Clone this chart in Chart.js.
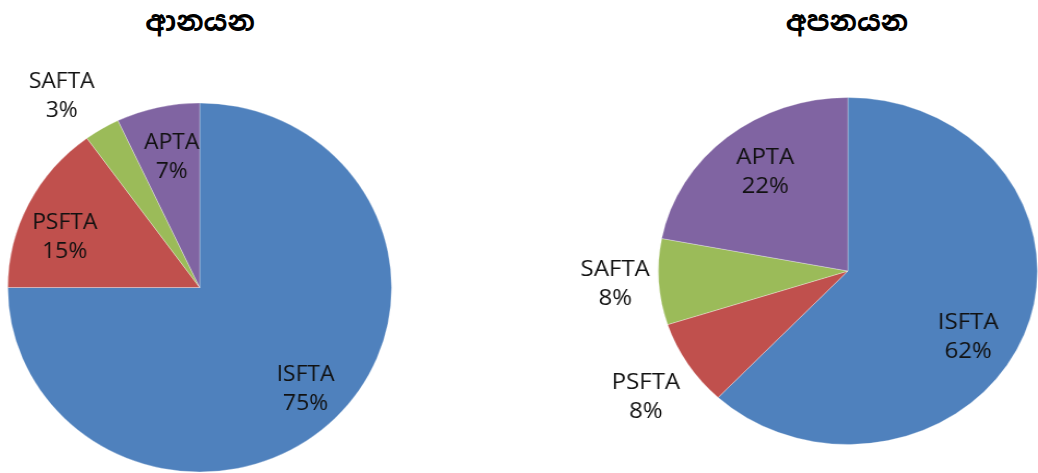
<!DOCTYPE html>
<html>
<head>
<meta charset="utf-8">
<script src="https://cdn.jsdelivr.net/npm/chart.js@4/dist/chart.umd.min.js"></script>
<style>
    html, body { margin: 0; padding: 0; background: #fff; overflow: hidden; }
    body { width: 1038px; height: 473px; position: relative; }
    canvas { position: absolute; top: 0; }
    .titulo {
        position: absolute; top: 3px; width: 300px; text-align: center;
        font-family: "Noto Sans Sinhala", "Iskoola Pota", "Noto Sans", sans-serif;
        font-weight: bold; font-size: 28px; color: #000;
    }
</style>
</head>
<body>
<div class="titulo" id="tituloImport" style="left:50px;"></div>
<div class="titulo" id="tituloExport" style="left:697px;"></div>
<!-- canvases stretched horizontally with css, like the original picture -->
<canvas id="importChart" width="499" height="473" style="left:0; width:519px; height:473px;"></canvas>
<canvas id="exportChart" width="475" height="473" style="left:519px; width:519px; height:473px;"></canvas>
<script>
// dados
const categorias = ['ISFTA', 'PSFTA', 'SAFTA', 'APTA'];
const importacoes = [75, 15, 3, 7];   // ආනයන
const exportacoes = [62, 8, 8, 22];   // අපනයන
const tituloImport = 'ආනයන';
const tituloExport = 'අපනයන';

const cores = ['#4F81BD', '#C0504D', '#9BBB59', '#8064A2'];

// posição dos rótulos: fração do raio e desvio do ângulo (graus)
const rotuloImport = { raio: [0.78, 0.755, 1.26, 0.72], desvio: [0, -5.7, -4.2, 0.9] };
const rotuloExport = { raio: [0.74, 1.29, 1.23, 0.715], desvio: [9.4, -1.9, 0, 2] };

// plugin simples para escrever nome + percentual
const rotulosPlugin = {
    id: 'rotulos',
    afterDatasetsDraw(chart, args, opts) {
        const ctx = chart.ctx;
        const meta = chart.getDatasetMeta(0);
        const valores = chart.data.datasets[0].data;
        ctx.save();
        ctx.font = '22px "Open Sans", "Noto Sans", sans-serif';
        ctx.fillStyle = '#111';
        ctx.textAlign = 'center';
        ctx.textBaseline = 'middle';
        meta.data.forEach((arc, i) => {
            const meio = (arc.startAngle + arc.endAngle) / 2 + opts.desvio[i] * Math.PI / 180;
            const r = arc.outerRadius * opts.raio[i];
            const x = arc.x + Math.cos(meio) * r;
            const y = arc.y + Math.sin(meio) * r;
            ctx.fillText(chart.data.labels[i], x, y - 14.5);
            ctx.fillText(valores[i] + '%', x, y + 14.5);
        });
        ctx.restore();
    }
};

function criaPizza(id, valores, padding, rotulo) {
    const ctx = document.getElementById(id).getContext('2d');
    new Chart(ctx, {
        type: 'pie',
        data: {
            labels: categorias,
            datasets: [{
                data: valores,
                backgroundColor: cores,
                borderColor: 'rgba(255,255,255,0.3)',
                borderWidth: 1,
                hoverOffset: 0
            }]
        },
        options: {
            responsive: false,
            animation: false,
            events: [],
            layout: { padding: padding },
            plugins: {
                legend: { display: false },
                tooltip: { enabled: false },
                rotulos: rotulo
            }
        },
        plugins: [rotulosPlugin]
    });
}

document.getElementById('tituloImport').textContent = tituloImport;
document.getElementById('tituloExport').textContent = tituloExport;

criaPizza('importChart', importacoes, { left: 7, top: 102, right: 122, bottom: 0 }, rotuloImport);
criaPizza('exportChart', exportacoes, { left: 127, top: 97, right: 0, bottom: 28 }, rotuloExport);
</script>
</body>
</html>
